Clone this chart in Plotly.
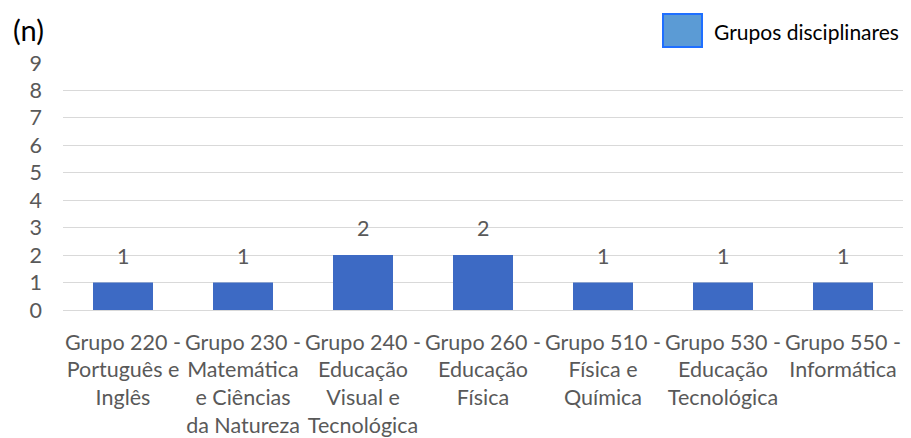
import plotly.graph_objects as go

categories = [
    "Grupo 220 - Português e Inglês",
    "Grupo 230 - Matemática e Ciências da Natureza",
    "Grupo 240 - Educação Visual e Tecnológica",
    "Grupo 260 - Educação Física",
    "Grupo 510 - Física e Química",
    "Grupo 530 - Educação Tecnológica",
    "Grupo 550 - Informática",
]
tick_labels = [
    "Grupo 220 -<br>Português e<br>Inglês",
    "Grupo 230 -<br>Matemática<br>e Ciências<br>da Natureza",
    "Grupo 240 -<br>Educação<br>Visual e<br>Tecnológica",
    "Grupo 260 -<br>Educação<br>Física",
    "Grupo 510 -<br>Física e<br>Química",
    "Grupo 530 -<br>Educação<br>Tecnológica",
    "Grupo 550 -<br>Informática",
]
values = [1, 1, 2, 2, 1, 1, 1]
y_ticks = list(range(0, 10))
series_name = "Grupos disciplinares"
y_label = "(n)"

FONT = "Lato"
GRAY = "#595959"
FS = 21.5

fig = go.Figure()
fig.add_trace(go.Bar(
    x=categories, y=values, width=0.5, name=series_name,
    marker=dict(color="#3D6AC4", line=dict(width=0)),
    showlegend=False,
))

for c, v in zip(categories, values):
    fig.add_annotation(x=c, y=v, text=str(v), showarrow=False, yanchor="bottom",
                       yshift=12, font=dict(family=FONT, size=FS, color=GRAY))

# legend (positions relative to the plot area: x 63..903, y 63..310 in page pixels)
fig.add_shape(type="rect", xref="paper", yref="paper",
              x0=(663 - 63) / 840, x1=(702 - 63) / 840,
              y0=(310 - 47) / 247, y1=(310 - 14) / 247,
              fillcolor="#5B9BD5", line=dict(color="#1F6FFF", width=2))
fig.add_annotation(xref="paper", yref="paper", x=(712 - 63) / 840, y=(310 - 31) / 247,
                   xanchor="left", yanchor="middle", text=series_name, showarrow=False,
                   font=dict(family=FONT, size=21, color="#000000"))
fig.add_annotation(xref="paper", yref="paper", x=(28 - 63) / 840, y=(310 - 29) / 247,
                   xanchor="center", yanchor="middle", text=y_label, showarrow=False,
                   font=dict(family=FONT, size=29, color="#000000"))

fig.update_layout(
    width=903, height=430,
    margin=dict(l=55, r=8, t=55, b=128),
    paper_bgcolor="white", plot_bgcolor="white",
    font=dict(family=FONT, size=FS, color=GRAY),
    bargap=0.5,
)
fig.update_xaxes(
    tickmode="array", tickvals=categories, ticktext=tick_labels,
    tickangle=0, showgrid=False, showline=False, zeroline=False, automargin=False,
    tickfont=dict(family=FONT, size=FS, color=GRAY), ticklabelstandoff=17,
)
fig.update_yaxes(
    range=[0, 9], tickvals=y_ticks, showgrid=True, gridcolor="#D9D9D9", gridwidth=1,
    zeroline=True, zerolinecolor="#D9D9D9", zerolinewidth=1, showline=False,
    automargin=False, tickfont=dict(family=FONT, size=FS, color=GRAY),
    ticklabelstandoff=20,
)

fig.write_html("out.html")
